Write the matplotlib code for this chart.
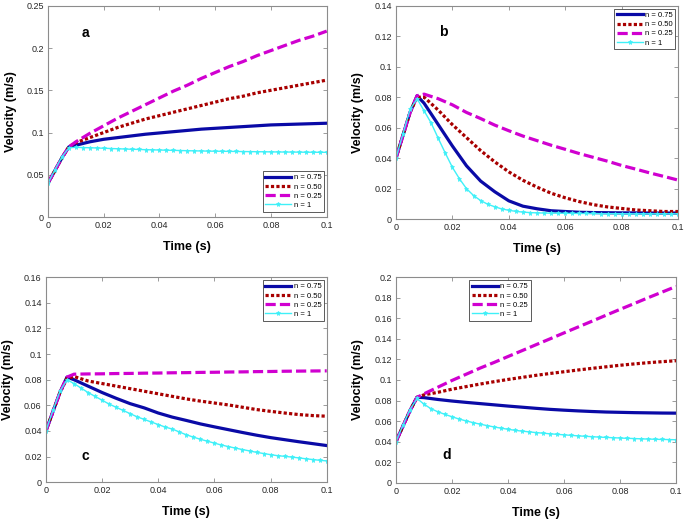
import numpy as np
import matplotlib
matplotlib.use('Agg')
import matplotlib.pyplot as plt
from matplotlib.ticker import FormatStrFormatter, MultipleLocator

plt.rcParams['font.family'] = ['Liberation Sans', 'DejaVu Sans']

# time grids (s)
t_line = [0, 0.0025, 0.005, 0.0075, 0.01, 0.015, 0.02, 0.025, 0.03, 0.035, 0.04,
          0.045, 0.05, 0.055, 0.06, 0.065, 0.07, 0.075, 0.08, 0.085, 0.09, 0.095, 0.1]
t_star = [i * 0.0025 for i in range(41)]

labels = ['n = 0.75', 'n = 0.50', 'n = 0.25', 'n = 1']
panel_names = ['a', 'b', 'c', 'd']

# panel a
a_n075 = [0.040, 0.055, 0.070, 0.083, 0.085, 0.089, 0.092, 0.094, 0.096, 0.098, 0.0995,
          0.101, 0.1025, 0.104, 0.105, 0.106, 0.107, 0.108, 0.109, 0.1095, 0.110, 0.1105, 0.111]
a_n050 = [0.040, 0.055, 0.070, 0.083, 0.088, 0.094, 0.100, 0.106, 0.111, 0.116, 0.120,
          0.124, 0.128, 0.132, 0.136, 0.140, 0.143, 0.147, 0.150, 0.153, 0.156, 0.159, 0.162]
a_n025 = [0.040, 0.055, 0.070, 0.083, 0.089, 0.099, 0.108, 0.117, 0.125, 0.133, 0.141,
          0.149, 0.156, 0.164, 0.171, 0.178, 0.184, 0.191, 0.197, 0.203, 0.209, 0.214, 0.220]
a_n1 = [0.040, 0.056, 0.071, 0.082, 0.0825, 0.0822, 0.082, 0.0817, 0.0814, 0.0811, 0.0808,
        0.0805, 0.0802, 0.080, 0.0797, 0.0795, 0.0793, 0.0791, 0.0789, 0.0787, 0.0785,
        0.0783, 0.0782, 0.078, 0.0779, 0.0778, 0.0777, 0.0776, 0.0775, 0.0774, 0.0773,
        0.0772, 0.0771, 0.077, 0.0769, 0.0769, 0.0768, 0.0767, 0.0767, 0.0766, 0.0766]

# panel b
b_n075 = [0.040, 0.055, 0.070, 0.081, 0.076, 0.062, 0.048, 0.035, 0.025, 0.018, 0.012,
          0.0085, 0.0068, 0.0055, 0.005, 0.0045, 0.0043, 0.0042, 0.0041, 0.0041, 0.004, 0.004, 0.004]
b_n050 = [0.040, 0.055, 0.070, 0.080, 0.080, 0.0715, 0.062, 0.0535, 0.045, 0.0376, 0.031,
          0.0255, 0.021, 0.017, 0.014, 0.0115, 0.0095, 0.008, 0.007, 0.006, 0.0055, 0.005, 0.005]
b_n025 = [0.040, 0.055, 0.070, 0.081, 0.082, 0.079, 0.075, 0.070, 0.066, 0.0617, 0.058,
          0.0545, 0.0515, 0.0485, 0.0458, 0.043, 0.0405, 0.038, 0.0352, 0.0328, 0.0303, 0.028, 0.0256]
b_n1 = [0.040, 0.056, 0.072, 0.079, 0.071, 0.063, 0.053, 0.0433, 0.034, 0.0265, 0.020,
        0.0155, 0.0122, 0.0098, 0.0081, 0.0067, 0.0058, 0.0051, 0.0046, 0.0043, 0.0041,
        0.004, 0.0039, 0.0039, 0.0038, 0.0038, 0.0037, 0.0037, 0.0037, 0.0036, 0.0036,
        0.0036, 0.0036, 0.0035, 0.0035, 0.0035, 0.0035, 0.0035, 0.0035, 0.0035, 0.0035]

# panel c
c_n075 = [0.040, 0.055, 0.070, 0.082, 0.080, 0.075, 0.070, 0.0655, 0.0613, 0.058, 0.054,
          0.0508, 0.0482, 0.0455, 0.0432, 0.041, 0.0388, 0.0367, 0.0348, 0.0332, 0.0316, 0.0301, 0.0286]
c_n050 = [0.040, 0.055, 0.070, 0.081, 0.0825, 0.079, 0.077, 0.075, 0.073, 0.071, 0.069,
          0.067, 0.065, 0.0633, 0.0618, 0.0603, 0.0585, 0.0567, 0.0553, 0.054, 0.0528, 0.052, 0.0515]
c_n025 = [0.040, 0.055, 0.070, 0.082, 0.0843, 0.0845, 0.0846, 0.0848, 0.0849, 0.0851, 0.0852,
          0.0854, 0.0855, 0.0857, 0.0858, 0.086, 0.0861, 0.0863, 0.0864, 0.0866, 0.0867, 0.0868, 0.0869]
c_n1 = [0.040, 0.056, 0.071, 0.080, 0.077, 0.0735, 0.070, 0.067, 0.064, 0.061, 0.0585,
        0.056, 0.0535, 0.051, 0.049, 0.047, 0.045, 0.043, 0.0415, 0.0392, 0.037,
        0.0352, 0.0335, 0.032, 0.0305, 0.029, 0.0278, 0.0266, 0.0255, 0.0244, 0.0233,
        0.0224, 0.0215, 0.0207, 0.0202, 0.0196, 0.019, 0.0183, 0.0177, 0.0171, 0.0166]

# panel d
d_n075 = [0.040, 0.055, 0.070, 0.0832, 0.0828, 0.081, 0.0795, 0.0782, 0.077, 0.0758, 0.0746,
          0.0735, 0.0724, 0.0714, 0.0706, 0.0699, 0.0693, 0.0688, 0.0685, 0.0682, 0.068, 0.0678, 0.0677]
d_n050 = [0.040, 0.055, 0.070, 0.083, 0.0855, 0.088, 0.091, 0.0935, 0.096, 0.0983, 0.1005,
          0.1025, 0.1045, 0.1063, 0.108, 0.1097, 0.1113, 0.1128, 0.1143, 0.1156, 0.1168, 0.1178, 0.1187]
d_n025 = [0.040, 0.055, 0.070, 0.083, 0.0865, 0.093, 0.0995, 0.1055, 0.1115, 0.117, 0.1228,
          0.1285, 0.1343, 0.14, 0.1458, 0.1515, 0.1572, 0.163, 0.1687, 0.1743, 0.18, 0.1855, 0.191]
d_n1 = [0.040, 0.056, 0.071, 0.082, 0.0765, 0.072, 0.069, 0.0665, 0.0642, 0.062, 0.0602,
        0.0585, 0.057, 0.0556, 0.0543, 0.0531, 0.052, 0.051, 0.0502, 0.0495, 0.0488,
        0.0482, 0.0476, 0.0471, 0.0466, 0.0461, 0.0456, 0.0452, 0.0448, 0.0444, 0.0441,
        0.0438, 0.0435, 0.0432, 0.043, 0.0427, 0.0425, 0.0423, 0.0421, 0.042, 0.0418]

y_max = [0.25, 0.14, 0.16, 0.2]
y_step = [0.05, 0.02, 0.02, 0.02]

fig = plt.figure(figsize=(6.85, 5.23), dpi=100)
# axes boxes [left, bottom, width, height]
boxes = [[0.070, 0.585, 0.407, 0.404],
         [0.578, 0.581, 0.412, 0.408],
         [0.067, 0.078, 0.410, 0.392],
         [0.578, 0.077, 0.409, 0.393]]
# letter positions (axes fraction)
letter_pos = [(0.133, 0.872), (0.167, 0.878), (0.139, 0.127), (0.182, 0.136)]
# legend anchors
leg_cfg = [dict(loc='lower right', bbox_to_anchor=(0.99, 0.025)),
           dict(loc='upper right', bbox_to_anchor=(0.99, 0.985)),
           dict(loc='upper right', bbox_to_anchor=(0.99, 0.985)),
           dict(loc='upper left', bbox_to_anchor=(0.262, 0.985))]

series = [(a_n075, a_n050, a_n025, a_n1),
          (b_n075, b_n050, b_n025, b_n1),
          (c_n075, c_n050, c_n025, c_n1),
          (d_n075, d_n050, d_n025, d_n1)]

spine_col = '#8c8c8c'

for i in range(4):
    ax = fig.add_axes(boxes[i])
    s075, s050, s025, s1 = series[i]
    ax.plot(t_line, s075, color='#0a0aa6', lw=2.3, label=labels[0])
    ax.plot(t_line, s050, color='#a80000', lw=2.3, dashes=(1.0, 0.7),
            dash_capstyle='butt', label=labels[1])
    ax.plot(t_line, s025, color='#d000d0', lw=2.3, dashes=(3.2, 1.3), label=labels[2])
    ax.plot(t_star, s1, color='#3ff0f8', lw=1.0, marker='*', markersize=3.6,
            markeredgewidth=0.5, label=labels[3])
    ax.set_xlim(0, 0.1)
    ax.set_ylim(0, y_max[i])
    ax.xaxis.set_major_locator(MultipleLocator(0.02))
    ax.yaxis.set_major_locator(MultipleLocator(y_step[i]))
    ax.xaxis.set_major_formatter(FormatStrFormatter('%g'))
    ax.yaxis.set_major_formatter(FormatStrFormatter('%g'))
    ax.tick_params(direction='in', top=True, right=True, length=3, width=0.6,
                   colors=spine_col, labelcolor='#262626', labelsize=6.5, pad=3)
    for sp in ax.spines.values():
        sp.set_color(spine_col)
        sp.set_linewidth(0.8)
    ax.set_xlabel('Time (s)', fontsize=9, fontweight='bold', labelpad=8)
    ax.set_ylabel('Velocity (m/s)', fontsize=9, fontweight='bold', labelpad=7)
    ax.text(letter_pos[i][0], letter_pos[i][1], panel_names[i], transform=ax.transAxes,
            fontsize=10, fontweight='bold', ha='center', va='center')
    leg = ax.legend(fontsize=5.5, handlelength=3.4, handletextpad=0.3, labelspacing=0.25,
                    borderpad=0.35, fancybox=False, framealpha=1, borderaxespad=0,
                    **leg_cfg[i])
    leg.get_frame().set_edgecolor('#404040')
    leg.get_frame().set_linewidth(0.6)

fig.savefig('out.png', dpi=100)
